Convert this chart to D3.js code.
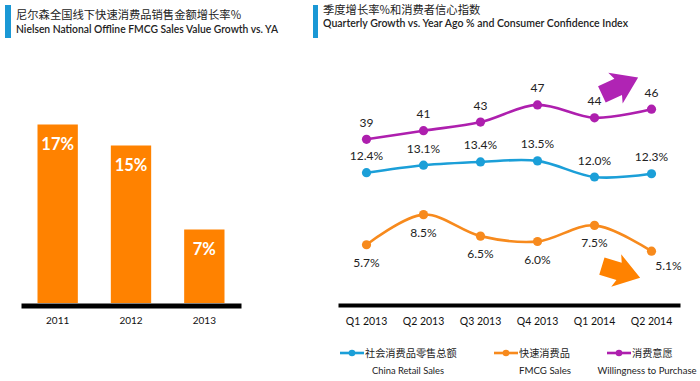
<!DOCTYPE html>
<html><head><meta charset="utf-8">
<script src="https://cdn.jsdelivr.net/npm/d3@7"></script>
<style>
body{margin:0;background:#fff;}
svg{display:block;font-family:Lato,"Noto Sans CJK SC",sans-serif;}
</style></head>
<body><svg id="c" width="700" height="381"></svg>
<script>
// ---- data ----
const years = ["2011","2012","2013"];
const fmcgYearly = [17, 15, 7];
const quarters = ["Q1 2013","Q2 2013","Q3 2013","Q4 2013","Q1 2014","Q2 2014"];
const retailSales = [12.4, 13.1, 13.4, 13.5, 12.0, 12.3];
const fmcgSales = [5.7, 8.5, 6.5, 6.0, 7.5, 5.1];
const willingness = [39, 41, 43, 47, 44, 46];
const leftTitleCn = "尼尔森全国线下快速消费品销售金额增长率%";
const leftTitleEn = "Nielsen National Offline FMCG Sales Value Growth vs. YA";
const rightTitleCn = "季度增长率%和消费者信心指数";
const rightTitleEn = "Quarterly Growth vs. Year Ago % and Consumer Confidence Index";
const legendCn = ["社会消费品零售总额","快速消费品","消费意愿"];
const legendEn = ["China Retail Sales","FMCG Sales","Willingness to Purchase"];

const svg = d3.select("#c");
const BLUE="#1b9fd8", ORANGE="#f78a1d", PURPLE="#ae1fae", BAR="#ff8200", TITLEBAR="#1a98d5";

// ---- titles ----
function title(x, barX, barW, yCn, yEn, cn, en, enLen){
  svg.append("rect").attr("x",barX).attr("y",5).attr("width",barW).attr("height",33).attr("fill",TITLEBAR);
  svg.append("text").attr("x",x).attr("y",yCn).attr("font-size",11.3).attr("fill","#222")
    .attr("font-family","'Noto Sans CJK SC',sans-serif").text(cn);
  svg.append("text").attr("x",x).attr("y",yEn).attr("font-size",10.5).attr("font-weight",600).attr("fill","#222")
    .attr("textLength",enLen).attr("lengthAdjust","spacingAndGlyphs").text(en);
}
title(16, 5, 6, 19, 33, leftTitleCn, leftTitleEn, 262);
title(323, 313, 5, 14, 27, rightTitleCn, rightTitleEn, 305);

// ---- left bar chart ----
const xb = d3.scaleBand().domain(years).range([21,241]).paddingInner(0.45).paddingOuter(0.225);
const yb = d3.scaleLinear().domain([0,20]).range([303,93]);
svg.append("g").selectAll("rect").data(years).join("rect")
  .attr("x",d=>xb(d)).attr("width",xb.bandwidth())
  .attr("y",(d,i)=>yb(fmcgYearly[i])).attr("height",(d,i)=>yb(0)-yb(fmcgYearly[i]))
  .attr("fill",BAR);
svg.append("g").selectAll("text").data(years).join("text")
  .attr("x",d=>xb(d)+xb.bandwidth()/2).attr("y",(d,i)=>yb(fmcgYearly[i])+25)
  .attr("text-anchor","middle").attr("font-size",16.5).attr("font-weight",700).attr("fill","#fff")
  .text((d,i)=>fmcgYearly[i]+"%");
const axL = svg.append("g").attr("transform","translate(0,305.5)")
  .call(d3.axisBottom(xb).tickSize(0).tickPadding(0).tickSizeOuter(0));
axL.select(".domain").attr("stroke","#000").attr("stroke-width",5);
axL.selectAll("text").attr("font-size",10).attr("fill","#111").attr("font-family","Lato").attr("dy",0).attr("y",18.5);

// ---- right line chart ----
const xq = d3.scaleBand().domain(quarters).range([338,680]);
const cx = d => xq(d)+xq.bandwidth()/2;
const yPct = d3.scaleLinear().domain([0,16]).range([306,134]);
const yIdx = d3.scaleLinear().domain([0,50]).range([307,92]);

const axR = svg.append("g").attr("transform","translate(0,305)")
  .call(d3.axisBottom(xq).tickSize(0).tickPadding(0).tickSizeOuter(0));
axR.select(".domain").attr("stroke","#000").attr("stroke-width",4);
axR.selectAll("text").attr("font-size",10.5).attr("fill","#111").attr("font-family","Lato").attr("dy",0).attr("y",20);

// arrows
function arrow(cxp, cyp, rot, color){
  const pts = [[-20,-9],[-2,-9],[-5,-17],[20,0],[-5,17],[-2,9],[-20,9]];
  svg.append("polygon").attr("points",pts.map(p=>p.join(",")).join(" "))
    .attr("transform",`translate(${cxp},${cyp}) rotate(${rot})`).attr("fill",color);
}
arrow(620, 86, -25, "#b024b4");
arrow(621, 272, 17, "#ff8200");

function series(vals, y, color, labelFn, above){
  const line = d3.line().x((d,i)=>cx(quarters[i])).y(d=>y(d)).curve(d3.curveCatmullRom.alpha(0.5));
  svg.append("path").datum(vals).attr("d",line).attr("fill","none").attr("stroke",color).attr("stroke-width",2.6);
  svg.append("g").selectAll("circle").data(vals).join("circle")
    .attr("cx",(d,i)=>cx(quarters[i])).attr("cy",d=>y(d)).attr("r",4.6).attr("fill",color);
  svg.append("g").selectAll("text").data(vals).join("text")
    .attr("x",(d,i)=> (!above && i===vals.length-1) ? cx(quarters[i])+17 : cx(quarters[i]))
    .attr("y",(d,i)=> above ? y(d)-12.5 : (i===vals.length-1 ? y(d)+18.5 : y(d)+22))
    .attr("text-anchor","middle").attr("font-size",12).attr("fill","#222").text(labelFn);
}
series(willingness, yIdx, PURPLE, d=>d, true);
series(retailSales, yPct, BLUE, d=>d.toFixed(1)+"%", true);
series(fmcgSales, yPct, ORANGE, d=>d.toFixed(1)+"%", false);

// legend
const legColors=[BLUE,ORANGE,PURPLE];
const legIconX=[340,494,607];
const legEnX=[408,545,647];
const legEnLen=[72,52,99];
legendCn.forEach((t,i)=>{
  const g=svg.append("g");
  g.append("line").attr("x1",legIconX[i]).attr("x2",legIconX[i]+24).attr("y1",353).attr("y2",353)
    .attr("stroke",legColors[i]).attr("stroke-width",2.6);
  g.append("circle").attr("cx",legIconX[i]+12).attr("cy",353).attr("r",3.3).attr("fill",legColors[i]);
  g.append("text").attr("x",legIconX[i]+25).attr("y",357).attr("font-size",10.2).attr("fill","#222")
    .attr("font-family","'Noto Sans CJK SC',sans-serif").text(t);
  g.append("text").attr("x",legEnX[i]).attr("y",374).attr("text-anchor","middle").attr("font-size",9.5)
    .attr("fill","#222").attr("textLength",legEnLen[i]).attr("lengthAdjust","spacingAndGlyphs").text(legendEn[i]);
});
</script></body></html>
